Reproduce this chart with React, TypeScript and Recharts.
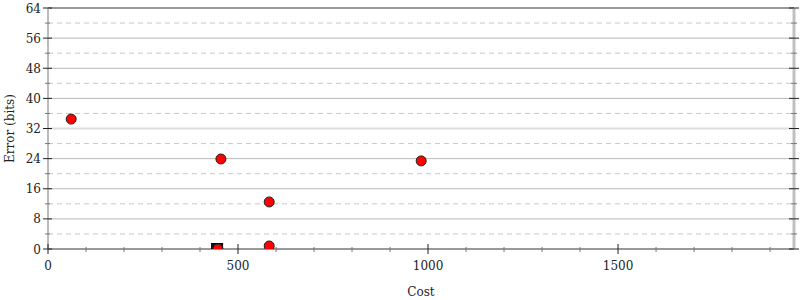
import React from "react"
import {
    ScatterChart,
    Scatter,
    XAxis,
    YAxis,
    ReferenceLine,
} from "recharts";

// points (cost, error bits)
const circlePoints = [
    { cost: 61, bits: 34.5 },
    { cost: 455, bits: 23.9 },
    { cost: 582, bits: 12.5 },
    { cost: 582, bits: 0.8 },
    { cost: 982, bits: 23.4 },
    { cost: 447, bits: 0 },
]
const squarePoints = [
    { cost: 445, bits: 0 },
]

const xTicks = [0, 100, 200, 300, 400, 500, 600, 700, 800, 900, 1000, 1100, 1200, 1300, 1400, 1500, 1600, 1700, 1800, 1900]
const xLabels = [0, 500, 1000, 1500]
const yTicks = [0, 4, 8, 12, 16, 20, 24, 28, 32, 36, 40, 44, 48, 52, 56, 60, 64]
const yLabels = [0, 8, 16, 24, 32, 40, 48, 56, 64]
const solidLines = [8, 16, 24, 40, 48, 56]
const dashedLines = [4, 12, 20, 28, 36, 44, 52, 60]

const FONT = "'DejaVu Serif', 'Liberation Serif', serif"
const textStyle = { fontFamily: FONT, fontSize: 12 }

const XTick = (props: any) => {
    const { x, y, payload } = props
    const major = xLabels.includes(payload.value)
    return (
        <g>
            <line x1={x} x2={x} y1={major ? y - 5 : y - 2} y2={major ? y + 5 : y + 3} stroke={major ? "#222" : "#777"} strokeWidth={1} />
            {major && (
                <text x={x} y={y + 21} textAnchor="middle" style={textStyle} fill="#222">{payload.value}</text>
            )}
        </g>
    )
}

const YTickLeft = (props: any) => {
    const { x, y, payload } = props
    const major = yLabels.includes(payload.value)
    return (
        <g>
            <line x1={major ? x - 5 : x - 3} x2={major ? x + 4 : x + 2} y1={y} y2={y} stroke={major ? "#222" : "#777"} strokeWidth={1} />
            {major && (
                <text x={x - 7} y={y + 4.5} textAnchor="end" style={textStyle} fill="#222">{payload.value}</text>
            )}
        </g>
    )
}

const YTickRight = (props: any) => {
    const { x, y, payload } = props
    const major = yLabels.includes(payload.value)
    return (
        <line x1={major ? x - 5 : x - 3} x2={major ? x + 5 : x + 3} y1={y} y2={y} stroke={major ? "#222" : "#777"} strokeWidth={1} />
    )
}

const RedDot = (props: any) => (
    <circle cx={props.cx} cy={props.cy} r={5} fill="#ff0000" stroke="#222" strokeWidth={1} />
)

const BlackSquare = (props: any) => (
    <rect x={props.cx - 5.5} y={props.cy - 5.5} width={11} height={11} fill="#111" stroke="#000" strokeWidth={1} />
)

const App: React.FC = () => {
    return (
        <div style={{ position: "absolute", left: 0, top: 0, width: 800, height: 300, fontFamily: FONT }}>
            <ScatterChart width={800} height={300} margin={{ top: 8, right: 0, left: 0, bottom: 0 }} style={{ fontFamily: FONT }}>
                <XAxis
                    type="number"
                    dataKey="cost"
                    domain={[0, 1963]}
                    ticks={xTicks}
                    interval={0}
                    height={51}
                    tickLine={false}
                    tickSize={0}
                    tickMargin={0}
                    tick={<XTick />}
                    axisLine={{ stroke: "#999", strokeWidth: 2 }}
                    label={{ value: "Cost", position: "insideBottom", offset: 4, fill: "#222", style: textStyle }}
                />
                <YAxis
                    yAxisId="left"
                    type="number"
                    dataKey="bits"
                    domain={[0, 64]}
                    allowDataOverflow
                    ticks={yTicks}
                    interval={0}
                    width={48}
                    tickLine={false}
                    tickSize={0}
                    tickMargin={0}
                    tick={<YTickLeft />}
                    axisLine={{ stroke: "#bbb", strokeWidth: 2 }}
                    label={{ value: "Error (bits)", angle: -90, position: "insideLeft", offset: 10, fill: "#222", style: { ...textStyle, textAnchor: "middle" } }}
                />
                <YAxis
                    yAxisId="right"
                    orientation="right"
                    type="number"
                    domain={[0, 64]}
                    allowDataOverflow
                    ticks={yTicks}
                    interval={0}
                    width={6}
                    tickLine={false}
                    tickSize={0}
                    tickMargin={0}
                    tick={<YTickRight />}
                    axisLine={{ stroke: "#c0c0c0", strokeWidth: 3 }}
                />
                {dashedLines.map((v) => (
                    <ReferenceLine key={"d" + v} yAxisId="left" y={v} stroke="#c8c8c8" strokeDasharray="5 4" strokeWidth={1} />
                ))}
                {solidLines.map((v) => (
                    <ReferenceLine key={"s" + v} yAxisId="left" y={v} stroke="#b8b8b8" strokeWidth={1} />
                ))}
                <ReferenceLine yAxisId="left" y={32} stroke="#dddddd" strokeWidth={2} />
                <ReferenceLine yAxisId="left" y={64} stroke="#999" strokeWidth={2} />
                <Scatter yAxisId="left" data={squarePoints} shape={<BlackSquare />} isAnimationActive={false} />
                <Scatter yAxisId="left" data={circlePoints} shape={<RedDot />} isAnimationActive={false} />
            </ScatterChart>
        </div>
    )
}

export default App;
